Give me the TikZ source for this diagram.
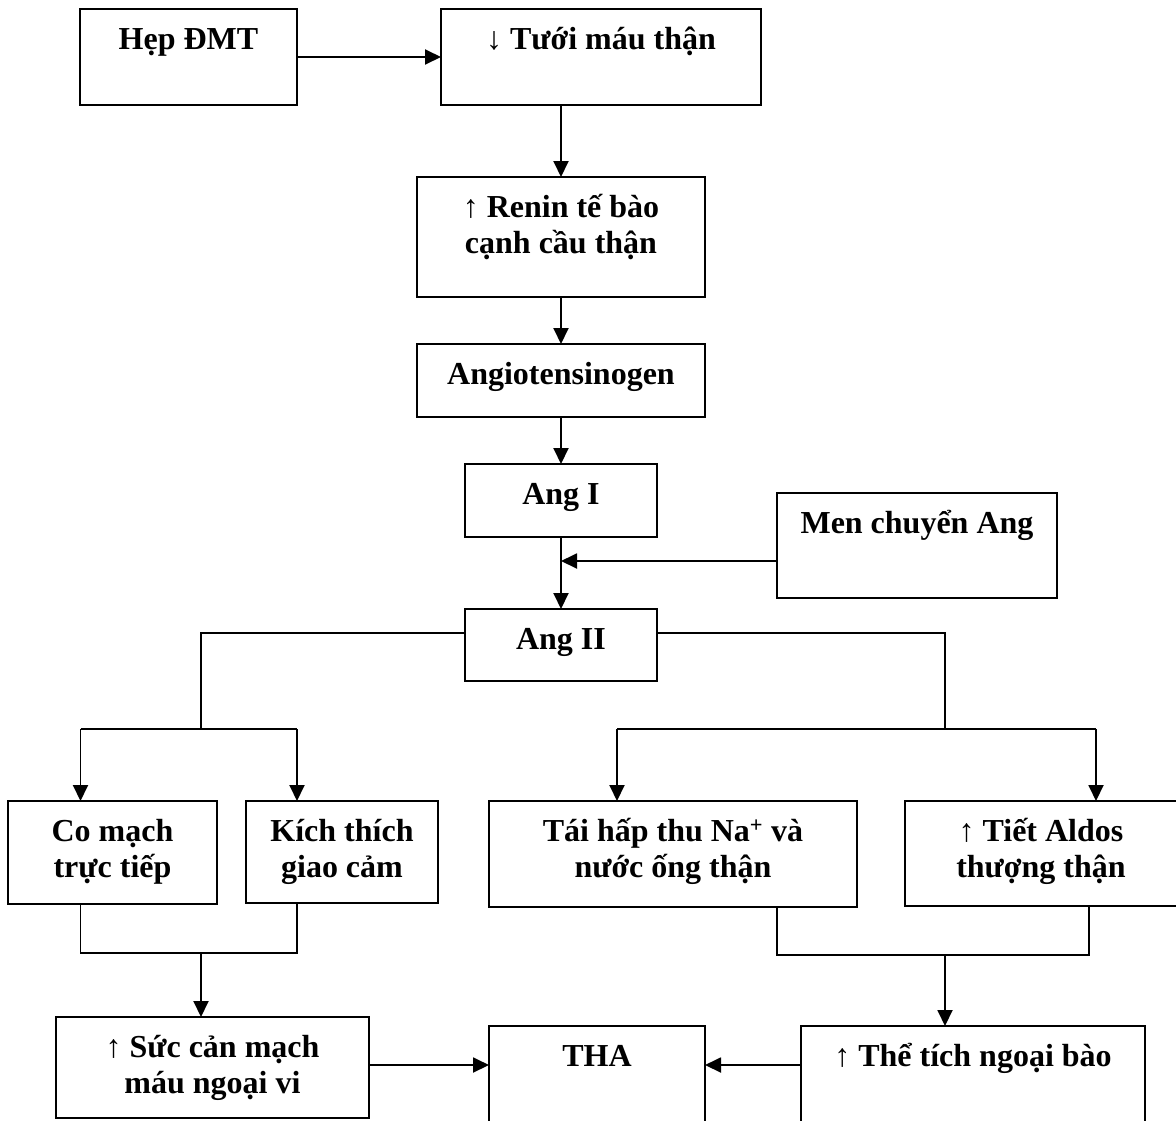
\documentclass[tikz,border=0pt]{standalone}
\usepackage{fontspec}
\setmainfont{Liberation Serif}
\usetikzlibrary{arrows.meta}
\newcommand\bxt[3]{\parbox[t][#2pt][t]{#1pt}{\lineskiplimit=-100pt\centering\rule{0pt}{40.5pt}#3}}
\newcommand\upa{{\mdseries ↑}}
\newcommand\dna{{\mdseries ↓}}
\begin{document}
\begin{tikzpicture}[x=1pt,y=-1pt,
  font=\fontsize{32}{36}\selectfont\bfseries,
  box/.style={draw, line width=1.8pt, inner sep=0pt, outer sep=0pt, anchor=north west},
  arr/.style={line width=1.9pt, -{Triangle[length=16pt,width=15pt]}},
  ln/.style={line width=1.4pt},
  bar/.style={line width=1.7pt}]
\useasboundingbox (0,0) rectangle (1176,1120);
\clip (0,0) rectangle (1176,1120);
\fill[white] (0,0) rectangle (1176,1120);

\node[box] (hep) at (80,9) {\bxt{217}{96}{Hẹp ĐMT}};
\node[box] (tuoi) at (441,9) {\bxt{320}{96}{\dna\ Tưới máu thận}};
\node[box] (renin) at (417,177) {\bxt{288}{120}{\upa\ Renin tế bào\\cạnh cầu thận}};
\node[box] (angio) at (417,344) {\bxt{288}{73}{Angiotensinogen}};
\node[box] (ang1) at (465,464) {\bxt{192}{73}{Ang I}};
\node[box] (men) at (777,493) {\bxt{280}{105}{Men chuyển Ang}};
\node[box] (ang2) at (465,609) {\bxt{192}{72}{Ang II}};
\node[box] (comach) at (8,801) {\bxt{209}{103}{Co mạch\\trực tiếp}};
\node[box] (kich) at (246,801) {\bxt{192}{102}{Kích thích\\giao cảm}};
\node[box] (tai) at (489,801) {\bxt{368}{106}{Tái hấp thu Na\textsuperscript{+} và\\nước ống thận}};
\node[box] (tiet) at (905,801) {\bxt{272}{105}{\upa\ Tiết Aldos\\thượng thận}};
\node[box] (succan) at (56,1017) {\bxt{313}{101}{\upa\ Sức cản mạch\\máu ngoại vi}};
\node[box] (tha) at (489,1026) {\bxt{216}{100}{THA}};
\node[box] (thetich) at (801,1026) {\bxt{344}{100}{\upa\ Thể tích ngoại bào}};

\draw[arr] (hep.east) -- (tuoi.west);
\draw[arr] (renin.north |- tuoi.south) -- (renin.north);
\draw[arr] (renin.south) -- (angio.north);
\draw[arr] (angio.south) -- (ang1.north);
\draw[arr] (ang1.south) -- (ang2.north);
\coordinate (mj) at (0,561);
\draw[arr] (men.west |- mj) -- (ang1.south |- mj);

\coordinate (ly) at (0,633);
\coordinate (L) at (201,729);
\coordinate (R) at (945,729);
\draw[ln] (ang2.west |- ly) -| (L);
\draw[ln] (ang2.east |- ly) -| (R);
\coordinate (la) at (80.5,729);
\coordinate (lb) at (297,729);
\draw[bar] (la) -- (lb);
\draw[arr] (la) -- (la |- comach.north);
\draw[arr] (lb) -- (lb |- kich.north);
\coordinate (ra) at (617,729);
\coordinate (rb) at (1096,729);
\draw[bar] (ra) -- (rb);
\draw[arr] (ra) -- (ra |- tai.north);
\draw[arr] (rb) -- (rb |- tiet.north);

\coordinate (bl) at (0,953);
\draw[ln] (comach.south -| la) |- (bl -| lb) -- (kich.south -| lb);
\coordinate (bm) at (201,953);
\draw[arr] (bm) -- (bm |- succan.north);
\coordinate (rc) at (777,955);
\coordinate (rd) at (1089,955);
\draw[ln] (tai.south -| rc) -- (rc) -- (rd) -- (tiet.south -| rd);
\coordinate (rm) at (945,955);
\draw[arr] (rm) -- (rm |- thetich.north);

\coordinate (hy) at (0,1065);
\draw[arr] (succan.east |- hy) -- (tha.west |- hy);
\draw[arr] (thetich.west |- hy) -- (tha.east |- hy);
\end{tikzpicture}
\end{document}
